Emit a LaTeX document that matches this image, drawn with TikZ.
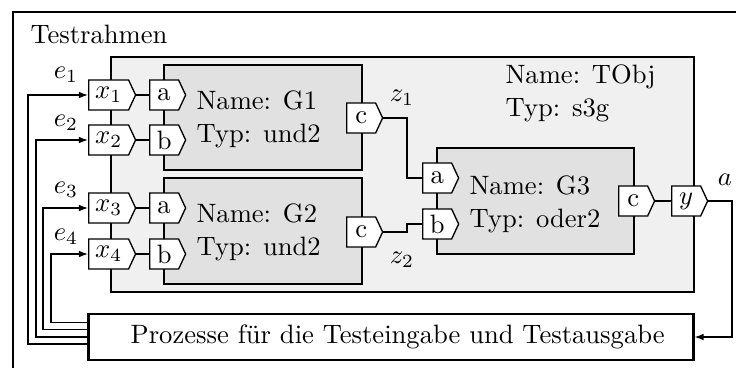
\documentclass[tikz,border=0pt]{standalone}
\usetikzlibrary{arrows.meta,shapes.symbols,fit}

\begin{document}
\begin{tikzpicture}[>={Latex[length=3.4pt,width=2.5pt]}, x=0.01321cm, y=-0.01321cm]

% Colors
\definecolor{objfill}{RGB}{240,240,240}
\definecolor{gatefill}{RGB}{225,225,225}

% Styles
\tikzset{
  testframe/.style={
    draw=black,
    line width=0.9pt
  },
  objbox/.style={
    draw=black,
    fill=objfill,
    line width=0.9pt,
    inner sep=0pt
  },
  gatebox/.style={
    draw=black,
    fill=gatefill,
    line width=0.9pt,
    inner sep=0pt
  },
  procbox/.style={
    draw=black,
    fill=white,
    line width=0.9pt,
    minimum width=7.99cm,
    minimum height=0.61cm,
    inner sep=0pt
  },
  port/.style={
    signal,
    signal to=east,
    signal pointer angle=130,
    draw=black,
    fill=white,
    line width=0.5pt,
    minimum height=0.396cm,
    minimum width=0.475cm,
    inner sep=1pt,
    anchor=west
  },
  xport/.style={
    port,
    minimum width=0.62cm
  },
  wire/.style={
    line width=0.5pt
  },
  feed/.style={
    ->,
    line width=0.5pt
  },
  info/.style={
    anchor=north west,
    inner sep=0pt,
    align=left,
    font=\fontsize{10}{12.6}\selectfont
  }
}

\useasboundingbox (0,0) rectangle (736,367);
\clip (0,0) rectangle (736,367);

% Test frame (cut by the page on the right and at the bottom)
\coordinate (frameNW) at (13,12);
\coordinate (frameSE) at (750,385);
\draw[testframe] (frameNW) rectangle (frameSE);
\node[anchor=base west, inner sep=0pt] (title) at (30,43) {Testrahmen};

% Boxes: corners first
\coordinate (tobjNW) at (111,57);
\coordinate (tobjSE) at (694,292);
\coordinate (g1NW) at (164,65);
\coordinate (g1SE) at (362,170);
\coordinate (g2NW) at (164,178);
\coordinate (g2SE) at (362,284);
\coordinate (g3NW) at (437,148);
\coordinate (g3SE) at (634,254);

\node[objbox, fit=(tobjNW)(tobjSE)] (tobj) {};
\node[gatebox, fit=(g1NW)(g1SE)] (g1) {};
\node[gatebox, fit=(g2NW)(g2SE)] (g2) {};
\node[gatebox, fit=(g3NW)(g3SE)] (g3) {};

% Name and type
\node[info] (tobjinfo) at (505,64) {Name: TObj\\Typ: s3g};
\node[info] (g1info) at (196,90) {Name: G1\\Typ: und2};
\node[info] (g2info) at (196,203) {Name: G2\\Typ: und2};
\node[info] (g3info) at (469,175) {Name: G3\\Typ: oder2};

% Process box
\node[procbox] (proc) at (391,337) {\hspace{5pt}Prozesse für die Testeingabe und Testausgabe};

% Ports
\node[xport] (x1) at (88,95)  {$x_1$};
\node[xport] (x2) at (88,140) {$x_2$};
\node[xport] (x3) at (88,208) {$x_3$};
\node[xport] (x4) at (88,254) {$x_4$};

\node[port] (g1a) at (149,95)  {a};
\node[port] (g1b) at (149,140) {b};
\node[port] (g2a) at (149,208) {a};
\node[port] (g2b) at (149,254) {b};
\node[port] (g1c) at (346,118) {c};
\node[port] (g2c) at (346,232) {c};

\node[port] (g3a) at (422,178) {a};
\node[port] (g3b) at (422,224) {b};
\node[port] (g3c) at (618,201) {c};
\node[port] (yout) at (671,201) {$y$};

% Inner wires
\draw[wire] (x1.east) -- (g1a.west);
\draw[wire] (x2.east) -- (g1b.west);
\draw[wire] (x3.east) -- (g2a.west);
\draw[wire] (x4.east) -- (g2b.west);
\draw[wire] (g1c.east) -- (g1c.east -| 407,0) |- (g3a.west);
\draw[wire] (g2c.east) -- (g2c.east -| 407,0) |- (g3b.west);
\draw[wire] (g3c.east) -- (yout.west);

% Feedback from the process box
\draw[feed] (proc.west |- 0,344) -| (x1.west -| 28,0) -- (x1.west);
\draw[feed] (proc.west |- 0,337) -| (x2.west -| 36,0) -- (x2.west);
\draw[feed] (proc.west |- 0,329.7) -| (x3.west -| 43,0) -- (x3.west);
\draw[feed] (proc.west |- 0,322.3) -| (x4.west -| 51,0) -- (x4.west);
\draw[feed] (yout.east) -- (yout.east -| 732,0) |- (proc.east);

% Signal labels
\node (e1) at (66,75)  {$e_1$};
\node (e2) at (66,123) {$e_2$};
\node (e3) at (66,190) {$e_3$};
\node (e4) at (66,237) {$e_4$};
\node (z1) at (402,98)  {$z_1$};
\node (z2) at (402,260) {$z_2$};
\node (aout) at (725,180) {$a$};

\end{tikzpicture}
\end{document}
